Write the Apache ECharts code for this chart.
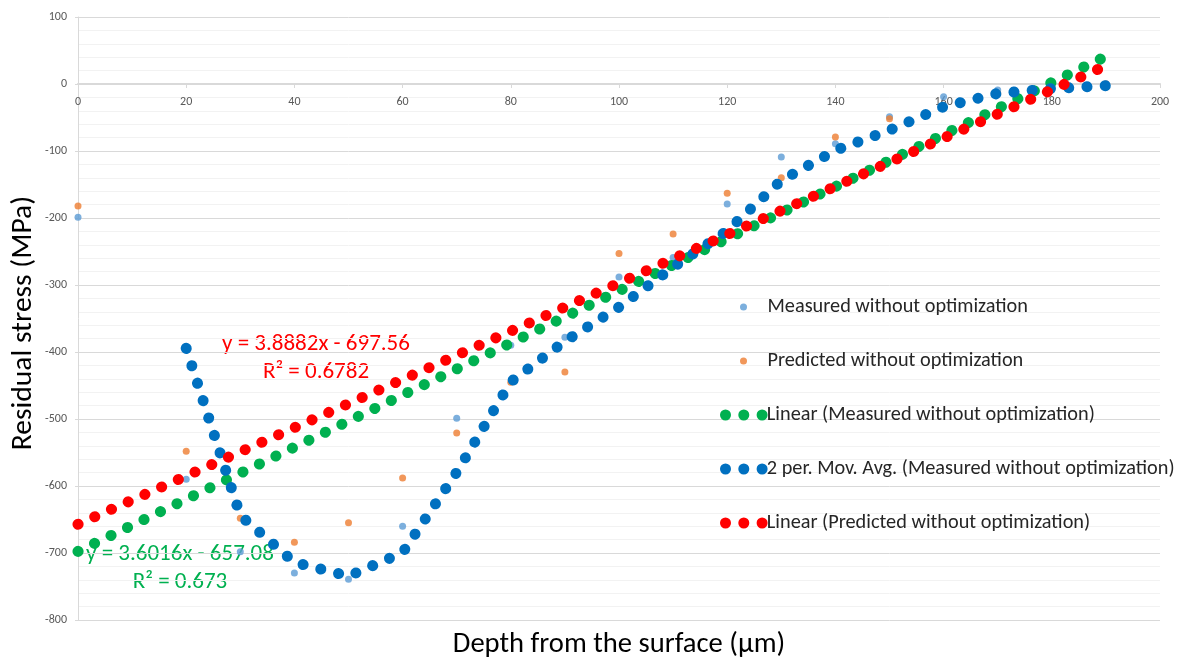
<!DOCTYPE html>
<html>
<head>
<meta charset="utf-8">
<script src="https://cdn.jsdelivr.net/npm/echarts@6/dist/echarts.min.js"></script>
<style>
  html, body { margin: 0; padding: 0; background: #ffffff; }
  #chart { width: 1186px; height: 657px; }
</style>
</head>
<body>
<div id="chart"></div>
<script>
  // depth (um) of each measurement
  var depth = [0, 20, 30, 40, 50, 60, 70, 80, 90, 100, 110, 120, 130, 140, 150, 160, 170, 180, 190];
  // residual stress (MPa)
  var measured = [-199, -590, -698, -730, -739, -660, -499, -390, -378, -288, -259, -179, -109, -89, -49, -19, -9, -5, 0];
  var predicted = [-182, -548, -648, -684, -655, -588, -521, -445, -430, -253, -224, -163, -140, -79, -52, -33, -14, -3, 0];
  // 2 period moving average of measured, starts at second point
  var movAvgX = [20, 30, 40, 50, 60, 70, 80, 90, 100, 110, 120, 130, 140, 150, 160, 170, 180, 190];
  var movAvg = [-394.5, -644, -714, -734.5, -699.5, -579.5, -444.5, -384, -333, -273.5, -219, -144, -99, -69, -34, -14, -7, -2.5];
  // linear trendline end points
  var trendX = [0, 190];
  var trendMeasured = [-697.56, 41.2];
  var trendPredicted = [-657.08, 27.22];

  var FONT = 'Carlito, Calibri, Lato, sans-serif';

  function pairs(xs, ys) {
    var out = [];
    for (var i = 0; i < xs.length; i++) out.push([xs[i], ys[i]]);
    return out;
  }

  var dotLine = function (color) {
    return {
      color: color,
      width: 11,
      type: [0.1, 18.2],
      cap: 'round'
    };
  };

  var threeDots = 'path://M0,5.5a5.5,5.5 0 1,0 11,0a5.5,5.5 0 1,0 -11,0Z' +
    'M18.3,5.5a5.5,5.5 0 1,0 11,0a5.5,5.5 0 1,0 -11,0Z' +
    'M36.6,5.5a5.5,5.5 0 1,0 11,0a5.5,5.5 0 1,0 -11,0Z';

  var myChart = echarts.init(document.getElementById('chart'));
  myChart.setOption({
    animation: false,
    backgroundColor: '#ffffff',
    grid: { left: 78, right: 26, top: 17, bottom: 37, outerBoundsMode: 'none' },
    legend: [{
      orient: 'vertical',
      align: 'left',
      left: 740,
      top: 296,
      padding: 0,
      itemWidth: 38,
      itemHeight: 7,
      itemGap: 32,
      icon: 'circle',
      selectedMode: false,
      textStyle: { fontFamily: FONT, fontSize: 20.3, color: '#262626', lineHeight: 22 },
      data: ['Measured without optimization', 'Predicted without optimization']
    }, {
      orient: 'vertical',
      align: 'left',
      left: 720,
      top: 404,
      padding: 0,
      itemWidth: 48,
      itemHeight: 11,
      itemGap: 32,
      icon: threeDots,
      selectedMode: false,
      textStyle: { fontFamily: FONT, fontSize: 20.3, color: '#262626', lineHeight: 22, padding: [0, 0, 0, -6] },
      data: ['Linear (Measured without optimization)', '2 per. Mov. Avg. (Measured without optimization)', 'Linear (Predicted without optimization)']
    }],
    xAxis: {
      type: 'value',
      position: 'bottom',
      offset: -536, // axis crosses at y = 0
      min: 0,
      max: 200,
      interval: 20,
      axisLine: { onZero: false, lineStyle: { color: '#D9D9D9', width: 2 } },
      axisTick: { show: true, length: 4, lineStyle: { color: '#D9D9D9' } },
      axisLabel: { color: '#595959', fontFamily: FONT, fontSize: 12, margin: 12 },
      splitLine: { show: false }
    },
    yAxis: {
      type: 'value',
      min: -800,
      max: 100,
      interval: 100,
      axisLine: { show: true, onZero: false, lineStyle: { color: '#D9D9D9' } },
      axisTick: { show: true, length: 3, lineStyle: { color: '#D9D9D9' } },
      axisLabel: { color: '#595959', fontFamily: FONT, fontSize: 12, margin: 11 },
      splitLine: { lineStyle: { color: '#D9D9D9' } },
      minorTick: { show: false, splitNumber: 5 },
      minorSplitLine: { show: true, lineStyle: { color: '#F2F2F2' } }
    },
    graphic: [{
      type: 'text',
      x: 24,
      y: 323,
      rotation: Math.PI / 2,
      style: {
        text: 'Residual stress (MPa)', fontFamily: FONT, fontSize: 29.5, fill: '#000000',
        align: 'center', verticalAlign: 'middle'
      }
    }, {
      type: 'text',
      x: 619,
      y: 630,
      style: { text: 'Depth from the surface (\u00b5m)', fontFamily: FONT, fontSize: 28.6, fill: '#000000', align: 'center' }
    }, {
      type: 'text',
      x: 316,
      y: 330,
      style: {
        text: 'y = 3.8882x - 697.56\nR\u00b2 = 0.6782',
        fontFamily: FONT, fontSize: 23, lineHeight: 28, fill: '#FF0000', align: 'center'
      }
    }, {
      type: 'text',
      x: 180,
      y: 540,
      style: {
        text: 'y = 3.6016x - 657.08\nR\u00b2 = 0.673',
        fontFamily: FONT, fontSize: 23, lineHeight: 28, fill: '#00B050', align: 'center'
      }
    }],
    series: [{
      name: 'Measured without optimization',
      type: 'scatter',
      symbolSize: 7,
      clip: false,
      itemStyle: { color: '#5B9BD5' },
      data: pairs(depth, measured)
    }, {
      name: 'Predicted without optimization',
      type: 'scatter',
      symbolSize: 7,
      clip: false,
      itemStyle: { color: '#ED7D31' },
      data: pairs(depth, predicted)
    }, {
      name: 'Linear (Measured without optimization)',
      type: 'line',
      showSymbol: false,
      clip: false,
      itemStyle: { color: '#00B050' },
      lineStyle: dotLine('#00B050'),
      data: pairs(trendX, trendMeasured)
    }, {
      name: '2 per. Mov. Avg. (Measured without optimization)',
      type: 'line',
      showSymbol: false,
      clip: false,
      itemStyle: { color: '#0070C0' },
      lineStyle: dotLine('#0070C0'),
      data: pairs(movAvgX, movAvg)
    }, {
      name: 'Linear (Predicted without optimization)',
      type: 'line',
      showSymbol: false,
      clip: false,
      itemStyle: { color: '#FF0000' },
      lineStyle: dotLine('#FF0000'),
      data: pairs(trendX, trendPredicted)
    }]
  });
  window.addEventListener('resize', function () {
    myChart.resize();
  });
</script>
</body>
</html>
